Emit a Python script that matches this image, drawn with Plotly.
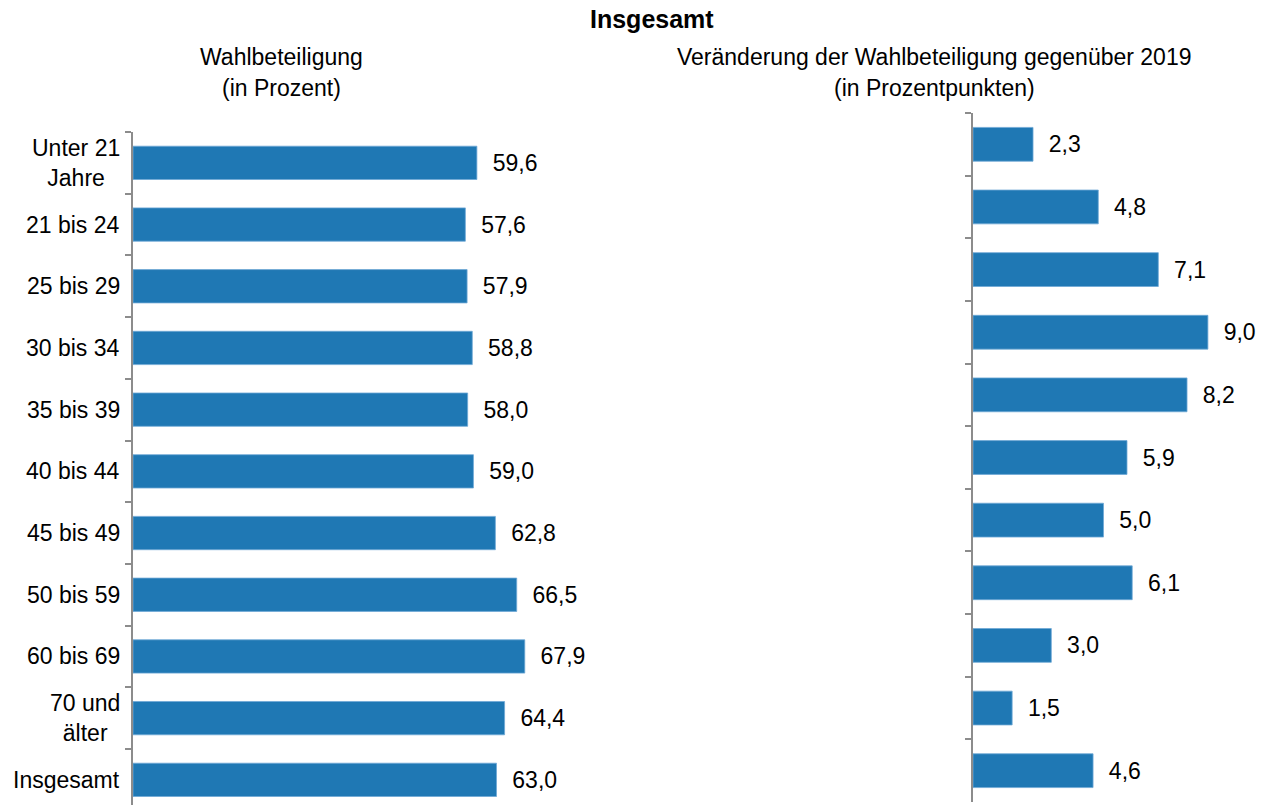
import plotly.graph_objects as go

categories = ["Unter 21<br>Jahre", "21 bis 24", "25 bis 29", "30 bis 34", "35 bis 39",
              "40 bis 44", "45 bis 49", "50 bis 59", "60 bis 69", "70 und<br>älter", "Insgesamt"]
turnout = [59.6, 57.6, 57.9, 58.8, 58.0, 59.0, 62.8, 66.5, 67.9, 64.4, 63.0]
change_2019 = [2.3, 4.8, 7.1, 9.0, 8.2, 5.9, 5.0, 6.1, 3.0, 1.5, 4.6]

title_text = "Insgesamt"
left_sub = ["Wahlbeteiligung", "(in Prozent)"]
right_sub = ["Veränderung der Wahlbeteiligung gegenüber 2019", "(in Prozentpunkten)"]

W, H = 1266, 805
FONT = "Liberation Sans, Arial, sans-serif"
FS = 23
BAR = "#1F78B4"
GRAY = "#8C8C8C"


def fmt(v):
    return "  " + f"{v:.1f}".replace(".", ",")


fig = go.Figure()
fig.add_trace(go.Bar(
    x=turnout, y=categories, orientation="h", xaxis="x", yaxis="y",
    marker=dict(color=BAR, line=dict(color="#6FA8D6", width=0.8)),
    text=[fmt(v) for v in turnout], textposition="outside",
    textfont=dict(family=FONT, size=FS, color="black"),
    cliponaxis=False, hoverinfo="skip", showlegend=False,
))
fig.add_trace(go.Bar(
    x=change_2019, y=categories, orientation="h", xaxis="x2", yaxis="y2",
    marker=dict(color=BAR, line=dict(color="#6FA8D6", width=0.8)),
    text=[fmt(v) for v in change_2019], textposition="outside",
    textfont=dict(family=FONT, size=FS, color="black"),
    cliponaxis=False, hoverinfo="skip", showlegend=False,
))

left_pitch = 61.7
left_top = 132
n_vis = (H - left_top) / left_pitch

axis_common = dict(showline=True, linecolor=GRAY, linewidth=2, ticks="outside",
                   tickson="boundaries", ticklen=6, tickcolor=GRAY, tickwidth=1.5,
                   showgrid=False, zeroline=False, showticklabels=False,
                   type="category", categoryarray=categories, categoryorder="array")

fig.update_layout(
    width=W, height=H,
    margin=dict(l=0, r=0, t=0, b=0),
    paper_bgcolor="white", plot_bgcolor="white",
    bargap=0.46,
    font=dict(family=FONT, size=FS, color="black"),
    xaxis=dict(domain=[133 / W, (133 + 577) / W], range=[0, 100], visible=False),
    yaxis=dict(domain=[0, 1 - left_top / H], range=[n_vis - 0.5, -0.5], anchor="x", **axis_common),
    xaxis2=dict(domain=[973 / W, 1], range=[0, (W - 973) / 26.1], visible=False),
    yaxis2=dict(domain=[3 / H, 1 - 113 / H], range=[10.5, -0.5], anchor="x2", **axis_common),
)

annotations = []
for c in categories:
    annotations.append(dict(x=0, y=c, xref="x", yref="y", text=c, showarrow=False,
                            xanchor="right", yanchor="middle", align="center", xshift=-11,
                            font=dict(family=FONT, size=FS, color="black")))

annotations.append(dict(x=652 / W, y=1 - 19 / H, xref="paper", yref="paper", text="<b>" + title_text + "</b>",
                        showarrow=False, xanchor="center", yanchor="middle",
                        font=dict(family=FONT, size=25, color="black")))
for i, line in enumerate(left_sub):
    annotations.append(dict(x=281 / W, y=1 - (57 + 31 * i) / H, xref="paper", yref="paper", text=line,
                            showarrow=False, xanchor="center", yanchor="middle",
                            font=dict(family=FONT, size=FS, color="black")))
for i, line in enumerate(right_sub):
    annotations.append(dict(x=934 / W, y=1 - (57 + 31 * i) / H, xref="paper", yref="paper", text=line,
                            showarrow=False, xanchor="center", yanchor="middle",
                            font=dict(family=FONT, size=FS, color="black")))
fig.update_layout(annotations=annotations)

fig.write_html("out.html", config={"displayModeBar": False},
               post_script="document.body.style.margin='0';")
